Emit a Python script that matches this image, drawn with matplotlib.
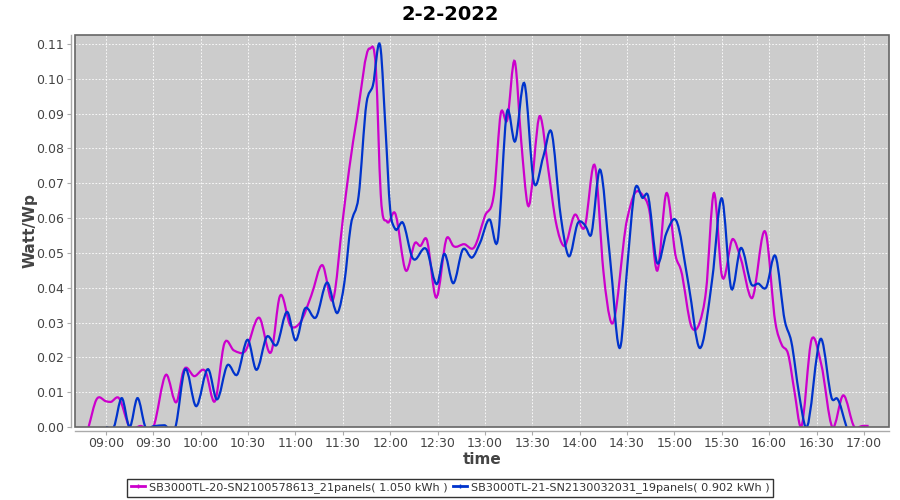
import numpy as np
import matplotlib
matplotlib.use("Agg")
import matplotlib.pyplot as plt
from matplotlib.path import Path
from matplotlib.patches import PathPatch, Rectangle
from matplotlib.lines import Line2D
from matplotlib.ticker import FuncFormatter, MultipleLocator

# --- data ---
title = "2-2-2022"
label_a = "SB3000TL-20-SN2100578613_21panels( 1.050 kWh )"
label_b = "SB3000TL-21-SN2130032031_19panels( 0.902 kWh )"

times_a = ["08:49", "08:54", "09:00", "09:03", "09:08", "09:15", "09:22", "09:30",
           "09:38", "09:45", "09:49", "09:56", "10:03", "10:09", "10:15", "10:21",
           "10:28", "10:37", "10:45", "10:50", "10:57", "11:03", "11:10", "11:17",
           "11:24", "11:30", "11:34", "11:39", "11:47", "11:51", "11:54", "11:58",
           "12:03", "12:10", "12:16", "12:19", "12:23", "12:29", "12:36", "12:40",
           "12:47", "12:53", "13:00", "13:06", "13:10", "13:14", "13:19", "13:23",
           "13:27", "13:35", "13:40", "13:45", "13:50", "13:57", "14:03", "14:10",
           "14:15", "14:20", "14:30", "14:35", "14:40", "14:44", "14:49", "14:55",
           "15:01", "15:04", "15:11", "15:16", "15:20", "15:25", "15:30", "15:37",
           "15:42", "15:49", "15:58", "16:04", "16:08", "16:12", "16:16", "16:20",
           "16:27", "16:33", "16:40", "16:47", "16:54", "16:59", "17:03"]
watt_a = [0.0, 0.0079, 0.0074, 0.0072, 0.0084, 0.0, 0.0003, 0.0,
          0.0150, 0.0074, 0.0160, 0.0146, 0.0160, 0.0074, 0.0240, 0.0220,
          0.0217, 0.0314, 0.0220, 0.0374, 0.0290, 0.0300, 0.0377, 0.0465,
          0.0368, 0.0596, 0.0740, 0.0890, 0.1087, 0.1025, 0.0670, 0.0590,
          0.0615, 0.0449, 0.0530, 0.0520, 0.0540, 0.0372, 0.0544, 0.0520,
          0.0525, 0.0515, 0.0606, 0.0680, 0.0900, 0.0880, 0.1049, 0.0820,
          0.0640, 0.0893, 0.0744, 0.0587, 0.0520, 0.0610, 0.0572, 0.0744,
          0.0449, 0.0300, 0.0596, 0.0672, 0.0665, 0.0625, 0.0449, 0.0672,
          0.0487, 0.0453, 0.0286, 0.0300, 0.0390, 0.0672, 0.0436, 0.0540,
          0.0484, 0.0370, 0.0555, 0.0298, 0.0236, 0.0210, 0.0103, 0.0,
          0.0253, 0.0180, 0.0, 0.0091, 0.0, 0.0003, 0.0003]

times_b = ["09:00", "09:05", "09:10", "09:15", "09:20", "09:25", "09:30", "09:37",
           "09:44", "09:50", "09:57", "10:05", "10:10", "10:17", "10:23", "10:30",
           "10:35", "10:42", "10:48", "10:55", "11:00", "11:06", "11:13", "11:20",
           "11:27", "11:31", "11:35", "11:40", "11:45", "11:49", "11:54", "11:57",
           "12:00", "12:03", "12:08", "12:14", "12:23", "12:30", "12:34", "12:40",
           "12:46", "12:52", "12:57", "13:03", "13:08", "13:14", "13:19", "13:25",
           "13:31", "13:37", "13:42", "13:48", "13:53", "13:59", "14:04", "14:07",
           "14:13", "14:19", "14:26", "14:30", "14:35", "14:40", "14:43", "14:49",
           "14:55", "15:01", "15:09", "15:16", "15:24", "15:30", "15:36", "15:42",
           "15:49", "15:53", "15:58", "16:04", "16:10", "16:14", "16:19", "16:23",
           "16:33", "16:40", "16:43", "16:49"]
watt_b = [0.0, 0.0, 0.0083, 0.0, 0.0083, 0.0, 0.0002, 0.0005,
          0.0, 0.0165, 0.0060, 0.0165, 0.0080, 0.0178, 0.0150, 0.0250,
          0.0165, 0.0260, 0.0235, 0.0330, 0.0249, 0.0340, 0.0315, 0.0415,
          0.0330, 0.0415, 0.0577, 0.0663, 0.0930, 0.0980, 0.1085, 0.0860,
          0.0625, 0.0570, 0.0587, 0.0487, 0.0510, 0.0413, 0.0496, 0.0413,
          0.0510, 0.0487, 0.0530, 0.0596, 0.0534, 0.0906, 0.0820, 0.0987,
          0.0703, 0.0777, 0.0849, 0.0606, 0.0491, 0.0587, 0.0575, 0.0550,
          0.0739, 0.0496, 0.0234, 0.0453, 0.0682, 0.0658, 0.0668, 0.0472,
          0.0558, 0.0594, 0.0408, 0.0227, 0.0427, 0.0657, 0.0398, 0.0514,
          0.0408, 0.0412, 0.0400, 0.0491, 0.0303, 0.0246, 0.0093, 0.0,
          0.0253, 0.0079, 0.0082, 0.0]

color_a = "#cc00cc"
color_b = "#0033cc"


def to_min(t):
    h, m = t.split(":")
    return int(h) * 60 + int(m)


def spline_path(x, y):
    # cubic hermite drawn as bezier segments, like a spline renderer
    x = np.asarray(x, float)
    y = np.asarray(y, float)
    m = np.gradient(y, x)
    verts = [(x[0], y[0])]
    codes = [Path.MOVETO]
    for i in range(len(x) - 1):
        h = x[i + 1] - x[i]
        verts += [(x[i] + h / 3, y[i] + m[i] * h / 3),
                  (x[i + 1] - h / 3, y[i + 1] - m[i + 1] * h / 3),
                  (x[i + 1], y[i + 1])]
        codes += [Path.CURVE4] * 3
    return Path(verts, codes)


fig = plt.figure(figsize=(9, 5), dpi=100)
ax = fig.add_axes([75 / 900, 1 - 427 / 500, 814 / 900, 392 / 500])
ax.set_facecolor("#cccccc")

for tt, vv, col in [(times_a, watt_a, color_a), (times_b, watt_b, color_b)]:
    xs = [to_min(t) for t in tt]
    ax.add_patch(PathPatch(spline_path(xs, vv), fill=False, edgecolor=col,
                           lw=1.6, zorder=3))

ax.set_xlim(520.4, 1035.9)
ax.set_ylim(0, 0.1126)
ax.xaxis.set_major_locator(MultipleLocator(30))
ax.xaxis.set_major_formatter(FuncFormatter(lambda v, p: f"{int(v) // 60:02d}:{int(v) % 60:02d}"))
ax.yaxis.set_major_locator(MultipleLocator(0.01))
ax.yaxis.set_major_formatter(FuncFormatter(lambda v, p: f"{v:.2f}"))

ax.grid(True, color="white", linestyle=(0, (2, 2)), linewidth=0.6)
ax.set_axisbelow(True)

for s in ["top", "right"]:
    ax.spines[s].set_visible(False)
for s in ["left", "bottom"]:
    ax.spines[s].set_position(("outward", 3))
    ax.spines[s].set_color("#aaaaaa")
    ax.spines[s].set_linewidth(1)
ax.add_patch(Rectangle((0, 0), 1, 1, transform=ax.transAxes, fill=False,
                       edgecolor="#666666", lw=1.2, clip_on=False, zorder=5))

ax.tick_params(direction="out", length=3, width=0.8, color="#aaaaaa",
               labelsize=9, labelcolor="#444444", pad=2)
ax.tick_params(axis="x", pad=1)

ax.set_xlabel("time", fontsize=11, fontweight="bold", color="#444444", labelpad=2)
ax.set_ylabel("Watt/Wp", fontsize=11, fontweight="bold", color="#444444")
ax.yaxis.set_label_coords(-0.046, 0.5)
fig.suptitle(title, x=0.5, y=0.99, fontsize=14, fontweight="bold")

handles = [Line2D([], [], color=color_a, lw=2, marker="|", markersize=3),
           Line2D([], [], color=color_b, lw=2, marker="|", markersize=3)]
leg = fig.legend(handles, [label_a, label_b], loc="lower center",
                 bbox_to_anchor=(0.5, 0.0), ncol=2, fontsize=8.1,
                 frameon=True, fancybox=False, handlelength=1.3,
                 handletextpad=0.3, columnspacing=0.5, borderpad=0.3,
                 borderaxespad=0.3)
leg.get_frame().set_edgecolor("black")
leg.get_frame().set_linewidth(1)
for t in leg.get_texts():
    t.set_color("#333333")

fig.savefig("out.png", dpi=100)
